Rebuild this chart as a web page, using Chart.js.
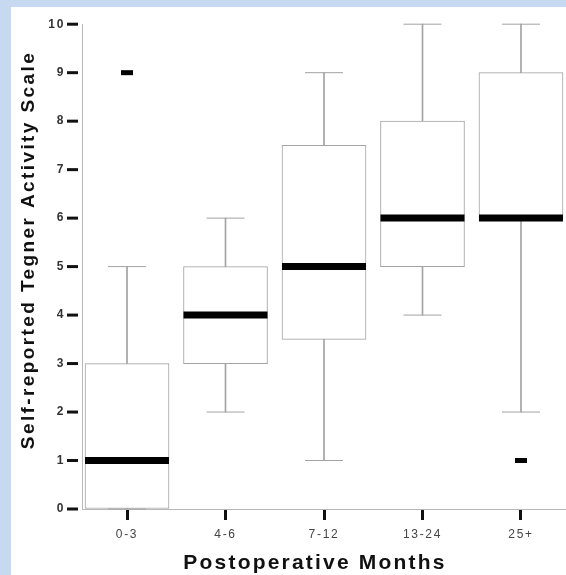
<!DOCTYPE html>
<html><head><meta charset="utf-8">
<script src="https://cdn.jsdelivr.net/npm/chart.js@4/dist/chart.umd.min.js"></script>
<style>html,body{margin:0;padding:0;background:#c6d9f1;overflow:hidden}
#wrap{position:absolute;left:0;top:0;width:566px;height:575px}</style>
</head><body><div id="wrap"><canvas id="c"></canvas></div>
<script>
const categories = ['0-3', '4-6', '7-12', '13-24', '25+'];
const whiskerLow = [0, 2, 1, 4, 2];
const q1 = [0, 3, 3.5, 5, 6];
const medians = [1, 4, 5, 6, 6];
const q3 = [3, 5, 7.5, 8, 9];
const whiskerHigh = [5, 6, 9, 10, 10];
const outliers = [[9], [], [], [], [1]];
const yTicks = [0, 1, 2, 3, 4, 5, 6, 7, 8, 9, 10];
const xTitle = 'Postoperative Months';
const yTitle = 'Self-reported Tegner Activity Scale';

const GREY = '#a3a3a3';
const AXIS = '#b8b8b8';
const FONT = 'Arial, "Liberation Sans", Helvetica, sans-serif';

const whiskerData = categories.map((c, i) => ({x: i, y: [whiskerLow[i], whiskerHigh[i]]}));
const boxData = categories.map((c, i) => ({x: i, y: [q1[i], q3[i]]}));
const capData = [];
categories.forEach((c, i) => { capData.push({x: i, y: whiskerHigh[i]}); capData.push({x: i, y: whiskerLow[i]}); });
const medianData = categories.map((c, i) => ({x: i, y: medians[i]}));
const outlierData = [];
outliers.forEach((arr, i) => arr.forEach(v => outlierData.push({x: i, y: v})));

const bgPlugin = {
  id: 'bg',
  beforeDraw(chart) {
    const ctx = chart.ctx;
    ctx.save();
    ctx.fillStyle = '#c6d9f1';
    ctx.fillRect(0, 0, chart.width, chart.height);
    ctx.fillStyle = '#ffffff';
    ctx.fillRect(11, 7, chart.width - 11, chart.height - 7);
    ctx.restore();
    ctx.letterSpacing = '1.7px';
  }
};

const marksPlugin = {
  id: 'marks',
  afterDraw(chart) {
    const ctx = chart.ctx;
    const ys = chart.scales.y;
    const left = chart.chartArea.left;
    ctx.save();
    ctx.fillStyle = '#111';
    yTicks.forEach(v => {
      const py = ys.getPixelForValue(v);
      ctx.fillRect(left - 15, py - 1.5, 11, 3);
    });
    ctx.fillStyle = '#111';
    ctx.textAlign = 'center';
    ctx.textBaseline = 'middle';
    ctx.letterSpacing = '2.2px';
    ctx.font = 'bold 21px ' + FONT;
    ctx.fillText(xTitle, 315, 563);
    ctx.translate(29, 250);
    ctx.rotate(-Math.PI / 2);
    ctx.letterSpacing = '2.4px';
    ctx.font = 'bold 19px ' + FONT;
    ctx.fillText(yTitle, 0, 0);
    ctx.restore();
  }
};

new Chart(document.getElementById('c'), {
  type: 'bar',
  data: {
    datasets: [
      {type: 'bar', data: whiskerData, backgroundColor: GREY, borderWidth: 0, barThickness: 1, grouped: false, clip: false, order: 5},
      {type: 'bar', data: boxData, backgroundColor: '#ffffff', borderColor: GREY, borderWidth: 1, borderSkipped: false, barThickness: 84, grouped: false, clip: false, order: 4},
      {type: 'line', data: capData, showLine: false, pointStyle: 'line', pointRadius: 19, pointBorderWidth: 1, pointBorderColor: GREY, borderColor: GREY, clip: false, order: 3},
      {type: 'line', data: medianData, showLine: false, pointStyle: 'line', pointRadius: 42, pointBorderWidth: 7, pointBorderColor: '#000', borderColor: '#000', clip: false, order: 2},
      {type: 'line', data: outlierData, showLine: false, pointStyle: 'line', pointRadius: 6, pointBorderWidth: 5, pointBorderColor: '#000', borderColor: '#000', clip: false, order: 1}
    ]
  },
  options: {
    responsive: true,
    maintainAspectRatio: false,
    animation: false,
    events: [],
    layout: {autoPadding: false, padding: {left: 11, top: 19, right: 0, bottom: 0}},
    plugins: {legend: {display: false}, tooltip: {enabled: false}},
    scales: {
      x: {
        type: 'linear',
        offset: false,
        min: -0.457,
        max: 4.457,
        afterBuildTicks: s => { s.ticks = categories.map((c, i) => ({value: i})); },
        afterFit: s => { s.height = 66; },
        ticks: {
          callback: v => categories[v],
          font: {size: 12, family: FONT},
          color: '#444',
          padding: 7,
          maxRotation: 0,
          autoSkip: false
        },
        grid: {offset: false, drawOnChartArea: false, drawTicks: true, tickLength: 11, tickWidth: 3, tickColor: '#111'},
        border: {color: AXIS, width: 1}
      },
      y: {
        min: 0,
        max: 10,
        afterBuildTicks: s => { s.ticks = yTicks.map(v => ({value: v})); },
        afterFit: s => { s.width = 71; },
        ticks: {
          font: {size: 12, weight: 'bold', family: FONT},
          color: '#333',
          padding: 17
        },
        grid: {drawOnChartArea: false, drawTicks: false},
        border: {color: AXIS, width: 1}
      }
    }
  },
  plugins: [bgPlugin, marksPlugin]
});
</script>
</body></html>
